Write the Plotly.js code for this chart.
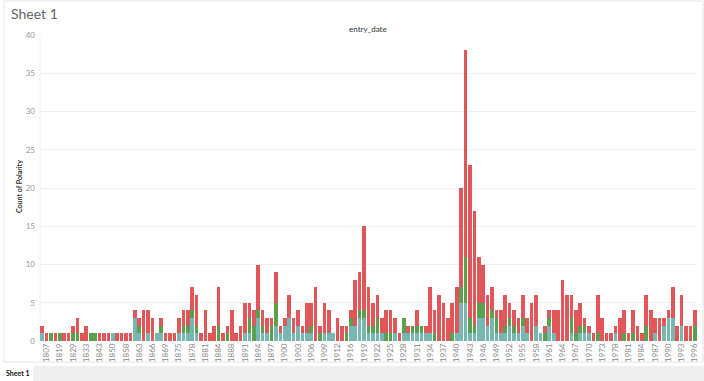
<!DOCTYPE html>
<html>
<head>
<meta charset="utf-8">
<script src="https://cdn.plot.ly/plotly-3.0.1.min.js"></script>
<style>
html,body{margin:0;padding:0;background:#fff;}
#chart{width:704px;height:381px;}
</style>
</head>
<body>
<div id="chart"></div>
<script>
// ---- DATA ----
var years = ["1801","1807","1811","1815","1819","1822","1826","1829","1831","1832",
"1833","1836","1840","1843","1845","1848","1850","1853","1856","1858",
"1860","1861","1863","1864","1865","1866","1867","1868","1869","1871",
"1873","1875","1876","1877","1878","1879","1880","1881","1882","1883",
"1884","1885","1887","1888","1889","1890","1891","1892","1893","1894",
"1895","1896","1897","1898","1899","1900","1901","1902","1903","1904",
"1905","1906","1907","1908","1909","1910","1911","1912","1913","1915",
"1916","1917","1918","1919","1920","1921","1922","1923","1924","1925",
"1926","1927","1928","1929","1930","1931","1932","1933","1934","1935",
"1936","1937","1938","1939","1940","1941","1942","1943","1944","1945",
"1946","1947","1948","1949","1950","1951","1952","1953","1954","1955",
"1956","1957","1958","1959","1960","1961","1962","1963","1964","1965",
"1966","1967","1968","1969","1970","1971","1972","1973","1975","1977",
"1978","1979","1980","1981","1982","1983","1984","1985","1986","1987",
"1988","1989","1990","1991","1992","1993","1994","1995","1996"];

var neutral = [1,0,0,0,0,0,0,0,0,0,
0,0,0,0,0,0,1,0,0,0,
0,3,1,0,1,0,1,1,0,0,
0,1,1,1,3,1,0,0,0,0,
0,0,0,0,0,0,1,1,0,3,
1,1,0,2,1,2,3,1,2,1,
1,1,0,0,1,1,1,0,0,0,
2,2,3,3,1,1,1,1,0,0,
1,0,1,1,1,1,1,1,1,0,
0,0,0,0,1,5,5,1,1,3,
3,2,3,1,1,1,2,1,1,2,
1,0,2,1,0,2,1,0,0,0,
1,0,1,1,1,0,0,0,0,0,
1,0,0,0,0,0,0,0,0,1,
0,2,3,3,0,2,0,0,0];

var positive = [0,0,1,0,1,0,0,1,1,0,
0,1,1,0,0,0,0,0,0,0,
0,0,1,0,0,0,0,1,0,0,
0,0,1,1,1,1,0,0,0,0,
2,0,1,0,0,0,0,2,2,1,
1,0,2,3,0,0,0,0,0,0,
0,1,0,1,0,0,0,0,0,1,
1,0,1,1,1,1,2,0,1,1,
0,0,2,0,1,1,1,0,0,1,
0,0,0,1,0,2,6,2,1,2,
2,0,1,2,0,1,1,1,0,1,
0,0,0,0,1,1,0,0,0,0,
2,1,1,1,0,0,1,0,0,0,
0,0,1,0,1,0,0,2,0,0,
0,0,0,0,0,0,0,0,2];

var negative = [1,1,0,1,0,1,1,1,2,1,
2,0,0,1,1,1,0,1,1,1,
1,1,1,4,3,3,0,1,1,1,
1,2,2,2,3,4,1,4,1,2,
5,1,1,4,1,2,4,2,2,6,
2,2,1,4,1,1,3,2,2,1,
4,3,7,1,4,3,0,3,2,1,
1,6,5,11,5,3,3,2,3,3,
2,1,0,1,0,2,0,1,6,3,
6,5,3,4,6,13,27,20,15,6,
5,4,3,1,3,4,2,2,2,3,
2,5,4,0,1,1,3,4,8,6,
3,3,3,1,1,1,5,3,1,1,
1,3,3,1,3,2,1,4,4,2,
3,1,1,4,2,4,2,2,2];

var yTicks = [0,5,10,15,20,25,30,35,40];

// ---- LAYOUT HELPERS (pixels -> paper) ----
var W = 704, Hh = 381, L = 40, R = 7, T = 35, B = 40;
var PW = W - L - R, PH = Hh - T - B;
function px(x){ return (x - L) / PW; }
function py(y){ return (Hh - B - y) / PH; }

var tickvals = [], ticktext = [];
for (var i = 1; i < years.length; i += 3) { tickvals.push(years[i]); ticktext.push(years[i]); }

var font = "Lato, 'Open Sans', Arial, sans-serif";

function bar(name, vals, color){
  return {type:'bar', name:name, x:years, y:vals,
    marker:{color:color, line:{width:0}}, hoverinfo:'skip'};
}

var data = [
  bar('neutral', neutral, '#76b7b2'),
  bar('positive', positive, '#59a14f'),
  bar('negative', negative, '#e15759')
];

var layout = {
  width: W, height: Hh,
  margin: {l:L, r:R, t:T, b:B, pad:0},
  paper_bgcolor:'#ffffff', plot_bgcolor:'#ffffff',
  barmode:'stack', bargap:0.18, showlegend:false,
  font:{family:font, color:'#888'},
  xaxis:{type:'category', categoryorder:'array', categoryarray:years,
    tickvals:tickvals, ticktext:ticktext, tickangle:-90,
    tickfont:{size:8, color:'#8a8a8a', family:font},
    showgrid:false, zeroline:false, showline:false, ticks:'', fixedrange:true},
  yaxis:{range:[0,40], tickvals:yTicks, ticktext:yTicks.map(String),
    tickfont:{size:8, color:'#9a9a9a', family:font},
    showgrid:true, gridcolor:'#f1f1f1', gridwidth:1, zeroline:false,
    showline:false, ticks:'', ticklabelstandoff:4, fixedrange:true},
  annotations:[
    {text:'Sheet 1', xref:'paper', yref:'paper', x:px(9), y:py(13), xanchor:'left', yanchor:'middle',
      showarrow:false, font:{size:14, color:'#666', family:font}},
    {text:'entry_date', xref:'paper', yref:'paper', x:px(368), y:py(29), xanchor:'center', yanchor:'middle',
      showarrow:false, font:{size:8, color:'#333', family:font}},
    {text:'<b>Count of Polarity</b>', xref:'paper', yref:'paper', x:px(19), y:py(187), xanchor:'center', yanchor:'middle',
      textangle:-90, showarrow:false, font:{size:7, color:'#333', family:font}},
    {text:'<b>Sheet 1</b>', xref:'paper', yref:'paper', x:px(4), y:py(373), xanchor:'left', yanchor:'middle',
      showarrow:false, font:{size:7, color:'#111', family:font}}
  ],
  shapes:[
    {type:'rect', xref:'paper', yref:'paper', x0:px(4), x1:px(703), y0:py(362), y1:py(1),
      line:{color:'#e4e4e4', width:1}, fillcolor:'rgba(0,0,0,0)', layer:'below'},
    {type:'rect', xref:'paper', yref:'paper', x0:px(33), x1:px(704), y0:py(381), y1:py(366),
      line:{width:0}, fillcolor:'#efefef', layer:'below'},
    {type:'line', xref:'paper', yref:'paper', x0:px(40), x1:px(40), y0:py(341), y1:py(35),
      line:{color:'#eeeeee', width:1}, layer:'below'}
  ]
};

Plotly.newPlot('chart', data, layout, {displayModeBar:false, staticPlot:true});
</script>
</body>
</html>
